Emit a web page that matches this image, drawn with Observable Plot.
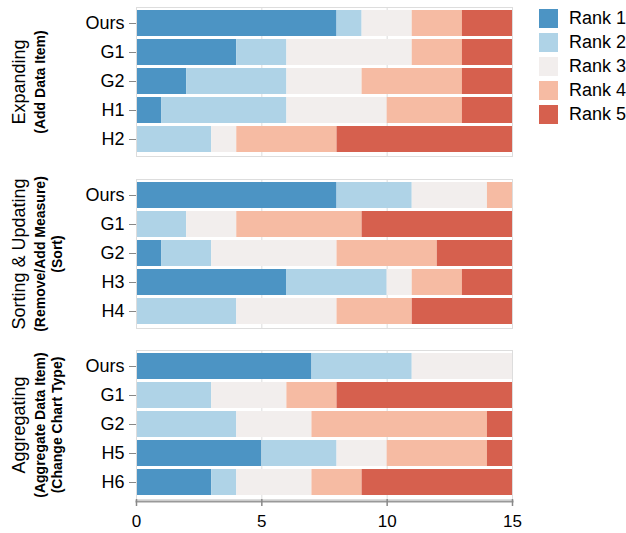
<!DOCTYPE html>
<html><head><meta charset="utf-8">
<script src="https://cdn.jsdelivr.net/npm/d3@7"></script>
<script src="https://cdn.jsdelivr.net/npm/@observablehq/plot@0.6"></script>
<style>
body{margin:0;background:#fff;font-family:"Liberation Sans",Arial,sans-serif;}
#wrap{position:relative;width:626px;height:533px;overflow:hidden;}
#plots svg{display:block;}
#legend{position:absolute;left:539px;top:8px;}
.lg-swatch{margin-bottom:2px;}
.lg-swatch svg{margin-right:11px !important;}
</style></head><body>
<div id="wrap"><div id="plots"></div><div id="legend"></div></div>
<script>
const ranks = ["Rank 1","Rank 2","Rank 3","Rank 4","Rank 5"];
const rankColors = ["#4c94c4","#afd3e7","#f2eeed","#f6bba3","#d6604e"];
const xTicks = [0,5,10,15];

const expandingMethods = ["Ours","G1","G2","H1","H2"];
const expandingCounts = [[8,1,2,2,2],[4,2,5,2,2],[2,4,3,4,2],[1,5,4,3,2],[0,3,1,4,7]];

const sortingMethods = ["Ours","G1","G2","H3","H4"];
const sortingCounts = [[8,3,3,1,0],[0,2,2,5,6],[1,2,5,4,3],[6,4,1,2,2],[0,4,4,3,4]];

const aggregatingMethods = ["Ours","G1","G2","H5","H6"];
const aggregatingCounts = [[7,4,4,0,0],[0,3,3,2,7],[0,4,3,7,1],[5,3,2,4,1],[3,1,3,2,6]];

const panelTitles = ["Expanding","Sorting & Updating","Aggregating"];
const panelSubtitles = [["(Add Data Item)"],["(Remove/Add Measure)","(Sort)"],["(Aggregate Data Item)","(Change Chart Type)"]];

const panels = [
  {methods: expandingMethods, counts: expandingCounts, mt: 7, mb: 11, axis: false},
  {methods: sortingMethods, counts: sortingCounts, mt: 12, mb: 11, axis: false},
  {methods: aggregatingMethods, counts: aggregatingCounts, mt: 11, mb: 35, axis: true}
];
const frameH = 149;
const font = "Liberation Sans, Arial, Helvetica, sans-serif";
const container = document.getElementById("plots");

panels.forEach((p, k) => {
  const data = [];
  p.methods.forEach((m, i) => p.counts[i].forEach((c, j) => data.push({method: m, rank: ranks[j], count: c})));
  const marks = [
    Plot.gridX(xTicks, {stroke: "#ddd", strokeOpacity: 1}),
    Plot.barX(data, Plot.stackX({x: "count", y: "method", fill: "rank"})),
    Plot.frame({stroke: "#ddd", strokeOpacity: 1}),
    Plot.axisY({tickSize: 7, tickPadding: 5, stroke: "#888", fontSize: 18, label: null}),
    Plot.text([panelTitles[k]], {text: d => d, frameAnchor: "left", textAnchor: "middle", lineAnchor: "middle", dx: 19 - 136, rotate: -90, fontSize: 18, fill: "#000"})
  ];
  const subX = [40, 57];
  panelSubtitles[k].forEach((s, i) => {
    marks.push(Plot.text([s], {text: d => d, frameAnchor: "left", textAnchor: "middle", lineAnchor: "middle", dx: subX[i] - 136, rotate: -90, fontSize: 14, fontWeight: "bold", fill: "#000"}));
  });
  if (p.axis) {
    marks.push(Plot.frame({anchor: "bottom", stroke: "#999", strokeWidth: 2, dy: 2}));
    marks.push(Plot.axisX({ticks: xTicks, tickSize: 7, tickPadding: 8, stroke: "#888", strokeWidth: 1.5, fontSize: 17, label: null}));
  }
  const chart = Plot.plot({
    width: 520,
    height: p.mt + frameH + p.mb,
    marginLeft: 136, marginRight: 8, marginTop: p.mt, marginBottom: p.mb,
    style: {fontFamily: font, fontSize: "16px", color: "#000", background: "#fff", overflow: "visible"},
    x: {domain: [0, 15], axis: null},
    y: {domain: p.methods, paddingInner: 0.1, paddingOuter: 0.05, axis: null},
    color: {domain: ranks, range: rankColors},
    marks
  });
  container.appendChild(chart);
});

const legend = Plot.legend({
  color: {domain: ranks, range: rankColors},
  legend: "swatches", columns: 1, swatchSize: 19, className: "lg",
  style: {fontFamily: font, fontSize: "18px", color: "#000"}
});
document.getElementById("legend").appendChild(legend);
</script>
</body></html>
